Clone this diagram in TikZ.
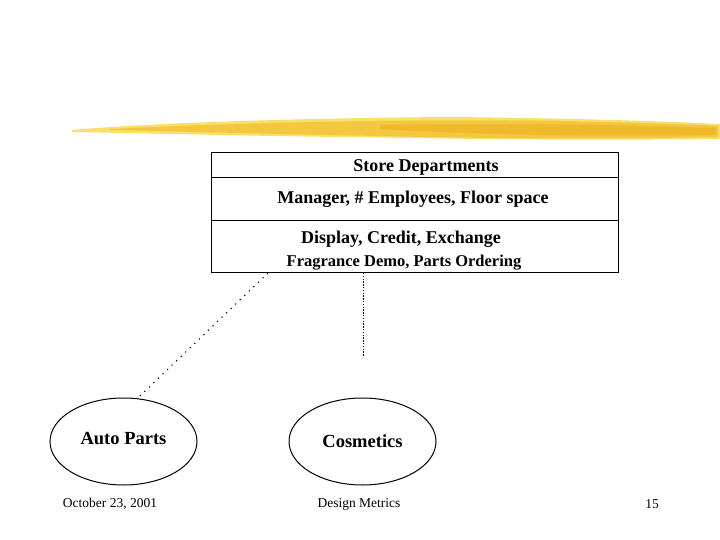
\documentclass[tikz,border=0pt]{standalone}
\usepackage{fontspec}
\setmainfont{Liberation Serif}
\usetikzlibrary{shapes.geometric}
\definecolor{brushA}{HTML}{F8E06A}
\definecolor{brushB}{HTML}{F3C53A}
\definecolor{brushC}{HTML}{EDB523}
\begin{document}
\begin{tikzpicture}[x=1pt,y=-1pt,
  boxtext/.style={font=\fontsize{18}{19}\selectfont\bfseries, inner sep=0pt},
  foot/.style={font=\fontsize{13.5}{15}\selectfont, inner sep=0pt},
  dept/.style={draw, ellipse, line width=1pt, minimum width=147pt, minimum height=87pt, font=\fontsize{18.5}{19}\selectfont\bfseries, inner sep=0pt},
  sparsedot/.style={line width=1pt, dash pattern=on 1.3pt off 5pt},
  densedot/.style={line width=1pt, dash pattern=on 1.3pt off 1.5pt}]
\useasboundingbox (0,0) rectangle (720,540);
\fill[white] (0,0) rectangle (720,540);
% brush stroke
\fill[brushA] (72,130) .. controls (150,123) and (300,118) .. (450,117)
  .. controls (560,118) and (660,121) .. (720,124) -- (720,139)
  .. controls (620,140) and (520,140) .. (420,138)
  .. controls (300,137) and (180,134) .. (72,132) -- cycle;
\fill[brushB, opacity=0.9] (110,129) .. controls (250,122) and (420,119) .. (560,121)
  .. controls (640,123) and (690,124) .. (718,126) -- (718,137)
  .. controls (620,139) and (500,139) .. (380,136)
  .. controls (260,134) and (170,131) .. (110,130) -- cycle;
\fill[brushC, opacity=0.7] (380,125) .. controls (480,123) and (600,124) .. (716,128) -- (716,135)
  .. controls (600,137) and (480,135) .. (380,129) -- cycle;
% class box
\node[draw, line width=1pt, minimum width=407pt, minimum height=119pt, inner sep=0pt] (box) at (414.5,212.5) {};
\draw[line width=1pt] (211,178) -- (618,178);
\draw[line width=1pt] (211,221) -- (618,221);
\node[boxtext] (title) at (426,167) {Store Departments};
\node[boxtext] (attrs) at (413,199) {Manager, \# Employees, Floor space};
\node[boxtext] (ops1) at (401,239) {Display, Credit, Exchange};
\node[boxtext, font=\fontsize{16.5}{18}\selectfont\bfseries] (ops2) at (404,263) {Fragrance Demo, Parts Ordering};
% subclasses
\node[dept] (auto) at (123.5,441.5) {\raisebox{6pt}{Auto Parts}};
\node[dept] (cosm) at (362.5,441.5) {Cosmetics};
% connectors
\coordinate (leftstart) at (268,273);
\coordinate (midstart) at (363,273);
\coordinate (midend) at (363,357);
\draw[sparsedot] (leftstart) -- (auto.72);
\draw[densedot] (midstart) -- (midend);
% footer
\node[foot] (date) at (110,504) {October 23, 2001};
\node[foot] (topic) at (359,504) {Design Metrics};
\node[foot] (page) at (652,504) {15};
\end{tikzpicture}
\end{document}
